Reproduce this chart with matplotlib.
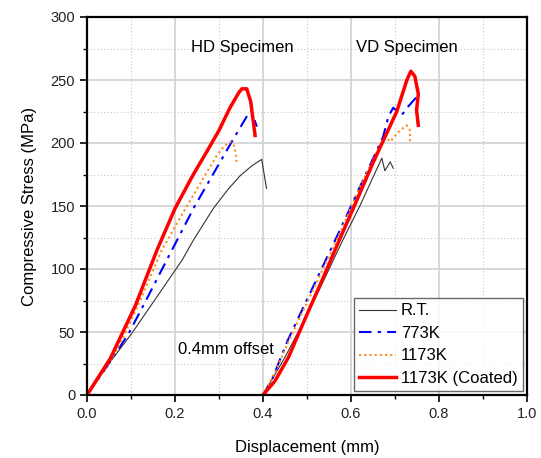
import matplotlib.pyplot as plt
from matplotlib.ticker import MultipleLocator

plt.rcParams['font.family'] = ['Liberation Sans', 'DejaVu Sans']

# HD specimen curves (displacement mm, stress MPa)
hd_rt_x = [0, 0.05, 0.102, 0.216, 0.242, 0.287, 0.32, 0.348, 0.375, 0.397, 0.408]
hd_rt_y = [0, 25, 49, 107, 123, 148, 163, 174, 182, 187, 164]
hd_773_x = [0, 0.05, 0.095, 0.125, 0.193, 0.245, 0.329, 0.363, 0.374, 0.386]
hd_773_y = [0, 25, 49, 69, 115, 150, 201, 221, 225, 213]
hd_1173_x = [0, 0.05, 0.08, 0.121, 0.17, 0.227, 0.295, 0.31, 0.325, 0.333, 0.338, 0.34]
hd_1173_y = [0, 25, 44, 75, 115, 150, 190, 197, 201, 199, 192, 185]
hd_coat_x = [0, 0.053, 0.11, 0.159, 0.2, 0.24, 0.272, 0.3, 0.325, 0.345, 0.352, 0.363,
             0.372, 0.382]
hd_coat_y = [0, 29, 71, 115, 148, 174, 193, 210, 228, 240, 243, 243, 233, 206]

# VD specimen curves (with 0.4 mm offset)
vd_rt_x = [0.4, 0.45, 0.48, 0.53, 0.58, 0.62, 0.67, 0.677, 0.689, 0.696]
vd_rt_y = [0, 30, 50, 85, 122, 150, 188, 178, 185, 180]
vd_773_x = [0.4, 0.42, 0.457, 0.571, 0.673, 0.685, 0.696, 0.715, 0.73, 0.753]
vd_773_y = [0, 12, 44, 128, 205, 221, 228, 222, 229, 238]
vd_1173_x = [0.4, 0.43, 0.46, 0.573, 0.62, 0.677, 0.689, 0.711, 0.727, 0.734, 0.734]
vd_1173_y = [0, 20, 44, 127, 165, 206, 201, 210, 214, 210, 200]
vd_coat_x = [0.4, 0.427, 0.458, 0.495, 0.533, 0.571, 0.605, 0.651, 0.704, 0.727,
             0.736, 0.745, 0.753, 0.749, 0.753]
vd_coat_y = [0, 11, 30, 60, 90, 121, 148, 185, 225, 250, 257, 253, 239, 226, 214]

fig = plt.figure(figsize=(5.41, 4.58), dpi=100)
ax = fig.add_axes([87 / 541, 63 / 458, 440 / 541, 378 / 458])

styles = {
    'rt': dict(color='#333333', lw=0.8, ls='-'),
    '773': dict(color='#0000ff', lw=1.5, ls=(0, (6, 3, 1.5, 3))),
    '1173': dict(color='#ff8c1a', lw=1.5, ls=(0, (1, 1.5))),
    'coat': dict(color='#ff0000', lw=2.5, ls='-'),
}

ax.plot(hd_rt_x, hd_rt_y, label='R.T.', **styles['rt'])
ax.plot(hd_773_x, hd_773_y, label='773K', **styles['773'])
ax.plot(hd_1173_x, hd_1173_y, label='1173K', **styles['1173'])
ax.plot(hd_coat_x, hd_coat_y, label='1173K (Coated)', **styles['coat'])
ax.plot(vd_rt_x, vd_rt_y, **styles['rt'])
ax.plot(vd_773_x, vd_773_y, **styles['773'])
ax.plot(vd_1173_x, vd_1173_y, **styles['1173'])
ax.plot(vd_coat_x, vd_coat_y, **styles['coat'])

ax.set_xlim(0, 1.0)
ax.set_ylim(0, 300)
ax.xaxis.set_major_locator(MultipleLocator(0.2))
ax.xaxis.set_minor_locator(MultipleLocator(0.1))
ax.yaxis.set_major_locator(MultipleLocator(50))
ax.yaxis.set_minor_locator(MultipleLocator(25))
ax.set_xticklabels(['%.1f' % v for v in ax.get_xticks()])

ax.grid(which='major', color='#d4d4d4', lw=1.3, ls='-')
ax.grid(which='minor', color='#c8c8c8', lw=0.8, ls=(0, (1, 2)))
ax.set_axisbelow(True)

ax.tick_params(which='major', direction='out', length=5, width=1.2, labelsize=10.5,
               colors='black', labelcolor='#222222', top=False, right=False)
ax.tick_params(which='minor', direction='out', length=3, width=1.0, top=False, right=False)
for s in ax.spines.values():
    s.set_linewidth(1.6)

ax.set_xlabel('Displacement (mm)', fontsize=12, labelpad=14)
ax.set_ylabel('Compressive Stress (MPa)', fontsize=12, labelpad=10)

ax.text(0.352, 276, 'HD Specimen', fontsize=12, ha='center', va='center')
ax.text(0.727, 276, 'VD Specimen', fontsize=12, ha='center', va='center')
ax.text(0.207, 36, '0.4mm offset', fontsize=12, ha='left', va='center')

leg = ax.legend(loc='lower right', fontsize=12, frameon=True, fancybox=False,
                edgecolor='#444444', borderaxespad=0.25, handlelength=2.2,
                handletextpad=0.3, labelspacing=0.45, borderpad=0.3)
leg.get_frame().set_linewidth(1.0)

fig.savefig('out.png', dpi=100)
